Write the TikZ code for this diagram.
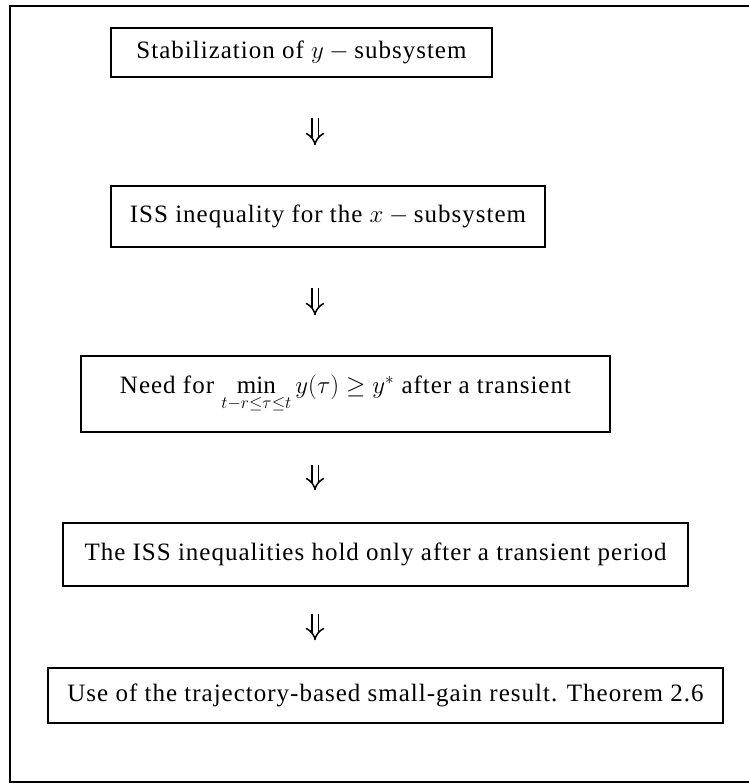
\documentclass[tikz,border=0pt]{standalone}
\usepackage{fontspec}
\setmainfont{Liberation Serif}[LetterSpace=4]
\usepackage{amsmath,amssymb}
\usetikzlibrary{arrows.meta}

\tikzset{
  flowbox/.style={draw,line width=1.5pt,inner sep=0pt,align=center,
    font=\fontsize{25}{30}\selectfont},
  implies/.style={double,double distance=5pt,line width=1.5pt,-{Implies}}
}

\begin{document}
\begin{tikzpicture}[x=1pt,y=-1pt]
\useasboundingbox (0,0) rectangle (748,784);
% outer frame (its right side runs off the page)
\draw[line width=1.5pt] (10,6) rectangle (760,782);
% the five steps
\node[flowbox,minimum width=381,minimum height=49] (stab) at (301.5,52.5)
  {Stabilization of $y-{}$subsystem};
\node[flowbox,minimum width=434,minimum height=61] (iss) at (328,216.5)
  {ISS inequality for the $x-{}$subsystem};
\node[flowbox,minimum width=529,minimum height=76] (need) at (345.5,394)
  {Need for $\min\limits_{t-r\le\tau\le t} y(\tau)\ge y^{*}$ after a transient};
\node[flowbox,minimum width=625,minimum height=63] (hold) at (375.5,554.5)
  {The ISS inequalities hold only after a transient period};
\node[flowbox,minimum width=675,minimum height=55] (gain) at (385.5,695.5)
  {Use of the trajectory-based small-gain result. Theorem 2.6};
% arrows between the steps
\coordinate (ax) at (315,0);
\foreach \a/\b/\s in {stab/iss/40,iss/need/40,need/hold/32,hold/gain/27}
  \draw[implies,shorten <=\s,shorten >=\s] (\a.south -| ax) -- (\b.north -| ax);
\end{tikzpicture}
\end{document}
